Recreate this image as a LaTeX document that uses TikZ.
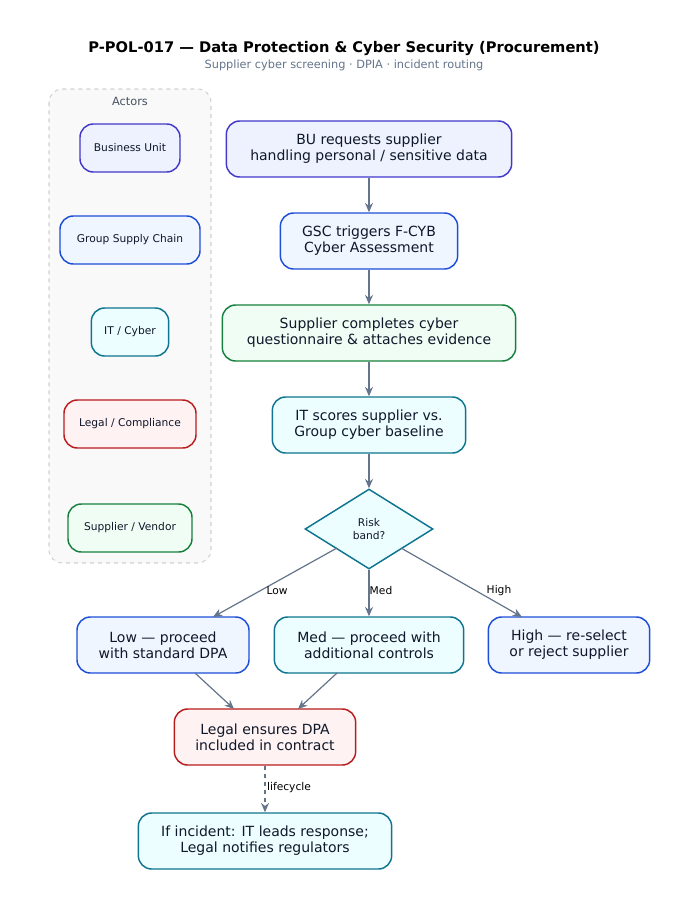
\documentclass[tikz,border=0pt]{standalone}
\usepackage{fontspec}
\setmainfont{DejaVu Sans}
\usetikzlibrary{shapes.geometric,arrows.meta}
\definecolor{edge}{HTML}{64748B}
\definecolor{bluB}{HTML}{1D4ED8}\definecolor{bluF}{HTML}{EFF6FF}
\definecolor{purB}{HTML}{4338CA}\definecolor{purF}{HTML}{EEF2FF}
\definecolor{grnB}{HTML}{15803D}\definecolor{grnF}{HTML}{F0FDF4}
\definecolor{tealB}{HTML}{0E7490}\definecolor{tealF}{HTML}{ECFEFF}
\definecolor{redB}{HTML}{B91C1C}\definecolor{redF}{HTML}{FEF2F2}
\definecolor{txt}{HTML}{0F172A}
\tikzset{
 box/.style={draw, rounded corners=10pt, line width=1.1pt, align=center, font=\fontsize{10.5}{12}\selectfont, text=txt, inner sep=0pt, minimum height=42pt},
 actor/.style={draw, rounded corners=10pt, line width=1.1pt, align=center, font=\fontsize{8}{9.5}\selectfont, text=txt, inner sep=0pt, minimum height=36pt},
 blu/.style={draw=bluB, fill=bluF}, pur/.style={draw=purB, fill=purF},
 grn/.style={draw=grnB, fill=grnF}, teal/.style={draw=tealB, fill=tealF},
 red/.style={draw=redB, fill=redF},
 arr/.style={draw=edge, line width=0.9pt, -{Stealth[length=7pt,width=6pt]}},
 lbl/.style={font=\fontsize{8}{9}\selectfont, text=black, inner sep=1pt}
}
\begin{document}
\begin{tikzpicture}[x=0.75pt,y=-0.75pt]
\useasboundingbox (0,0) rectangle (689,907);
\node[font=\bfseries\fontsize{11}{13}\selectfont] at (344,49) {P-POL-017 — Data Protection \& Cyber Security (Procurement)};
\node[font=\fontsize{8.5}{10}\selectfont, text=edge] at (344,65) {Supplier cyber screening · DPIA · incident routing};
\draw[draw=gray!35, dashed, fill=gray!5, rounded corners=10pt, line width=0.8pt] (49,89) rectangle (211,563);
\node[font=\fontsize{8.5}{10}\selectfont, text=edge!70!black] at (130,101) {Actors};
\node[actor,pur,minimum width=75pt] (a1) at (130,148) {Business Unit};
\node[actor,blu,minimum width=105pt] (a2) at (130,240) {Group Supply Chain};
\node[actor,teal,minimum width=58pt] (a3) at (130,332) {IT / Cyber};
\node[actor,red,minimum width=99pt] (a4) at (130,424) {Legal / Compliance};
\node[actor,grn,minimum width=93pt] (a5) at (130,528) {Supplier / Vendor};
\node[box,pur,minimum width=214pt] (n1) at (369,149) {BU requests supplier\\handling personal / sensitive data};
\node[box,blu,minimum width=133pt] (n2) at (369,241) {GSC triggers F-CYB\\Cyber Assessment};
\node[box,grn,minimum width=220pt] (n3) at (369,333) {Supplier completes cyber\\questionnaire \& attaches evidence};
\node[box,teal,minimum width=145pt] (n4) at (369,425) {IT scores supplier vs.\\Group cyber baseline};
\node[diamond,draw=tealB,fill=tealF,line width=1.1pt,minimum width=96pt,minimum height=60pt,inner sep=0pt,align=center,font=\fontsize{8}{9.5}\selectfont,text=txt] (d) at (369,529) {Risk\\band?};
\node[box,blu,minimum width=129pt] (lo) at (163,645) {Low — proceed\\with standard DPA};
\node[box,teal,minimum width=142pt] (me) at (369,645) {Med — proceed with\\additional controls};
\node[box,blu,minimum width=121pt] (hi) at (569,645) {High — re-select\\or reject supplier};
\node[box,red,minimum width=136pt] (lg) at (265,737) {Legal ensures DPA\\included in contract};
\node[box,teal,minimum width=190pt] (inc) at (265,841) {If incident: IT leads response;\\Legal notifies regulators};
\coordinate (loT) at (213,617);
\coordinate (hiT) at (522,617);
\coordinate (loB) at (195,673);
\coordinate (meB) at (337,673);
\coordinate (lgL) at (234,709);
\coordinate (lgR) at (298,709);
\coordinate (dL) at (337,548);
\coordinate (dR) at (401,548);
\draw[arr] (n1) -- (n2);
\draw[arr] (n2) -- (n3);
\draw[arr] (n3) -- (n4);
\draw[arr] (n4) -- (d);
\draw[arr] (dL) -- (loT);
\draw[arr] (d) -- (me);
\draw[arr] (dR) -- (hiT);
\node[lbl] (lLow) at (277,591) {Low};
\node[lbl] (lMed) at (381,591) {Med};
\node[lbl] (lHigh) at (499,591) {High};
\draw[arr] (loB) -- (lgL);
\draw[arr] (meB) -- (lgR);
\draw[arr,dashed] (lg) -- (inc);
\node[lbl] (lLife) at (289,788) {lifecycle};
\end{tikzpicture}
\end{document}
